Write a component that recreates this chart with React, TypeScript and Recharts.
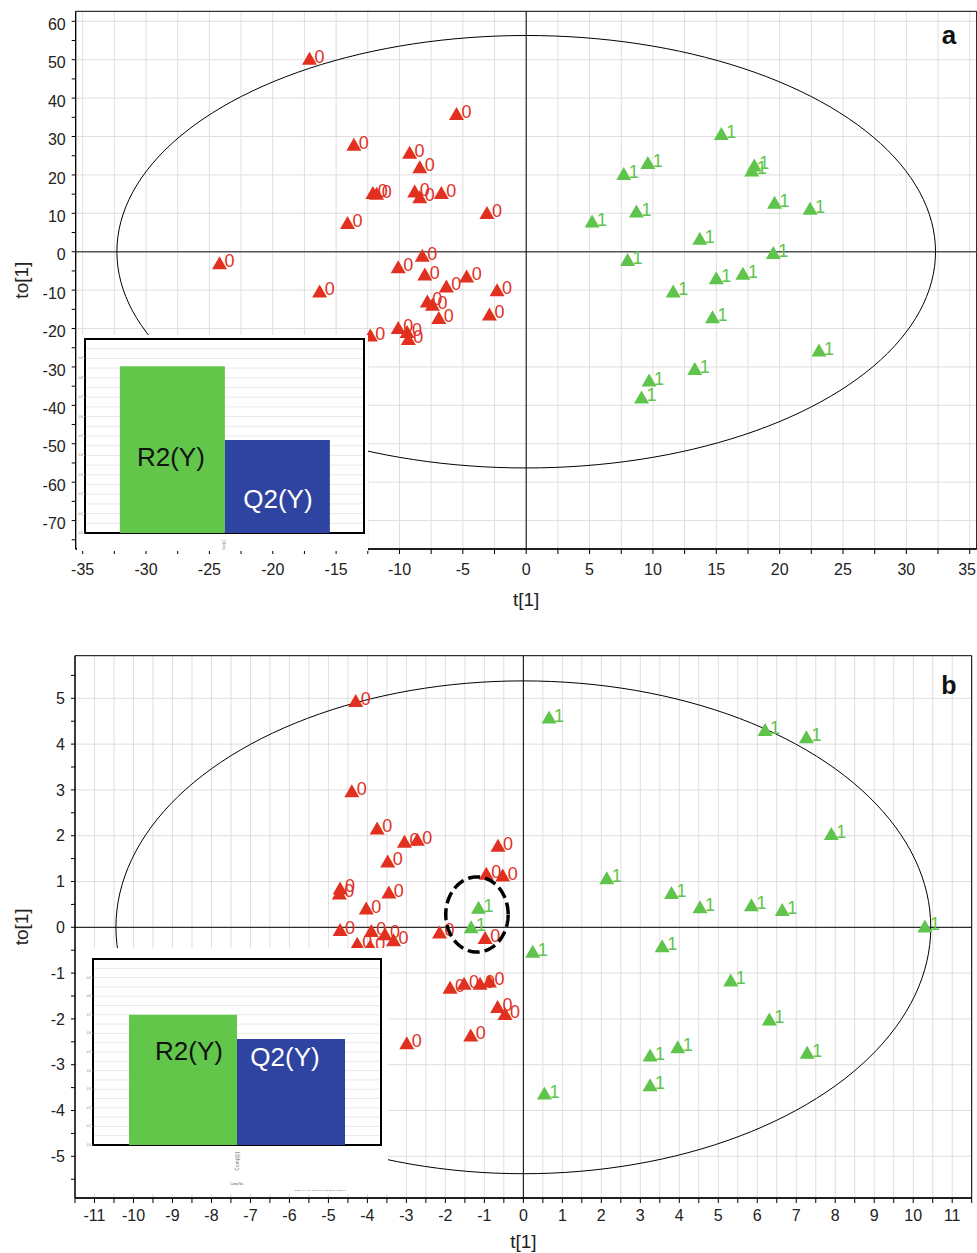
import React from "react";
import {
  ScatterChart,
  Scatter,
  XAxis,
  YAxis,
  CartesianGrid,
  ReferenceLine,
  ReferenceArea,
  BarChart,
  Bar,
  LabelList,
} from "recharts";

const FONT = "'Liberation Sans', Arial, Helvetica, sans-serif";
const RED = "#e1301f";
const GREEN = "#5fc44b";
const BAR_GREEN = "#62c64b";
const BAR_BLUE = "#2f44a0";
const GRID = "#dedede";
const TEXT = "#222";

// ---- panel a: scores t[1] / to[1]
const A_CLASS0: [number, number][] = [
  [-17.1, 50.4], [-5.5, 36.0], [-13.6, 28.0], [-9.2, 25.9], [-8.4, 22.1],
  [-12.1, 15.4], [-11.8, 15.2], [-8.8, 15.8], [-8.4, 14.3], [-6.7, 15.4],
  [-3.1, 10.2], [-14.1, 7.6], [-24.2, -2.9], [-8.2, -0.9], [-10.1, -3.9],
  [-8.0, -5.8], [-16.3, -10.2], [-4.7, -6.3], [-6.3, -8.9], [-2.3, -9.9],
  [-7.8, -12.8], [-7.4, -13.7], [-6.9, -17.1], [-2.9, -16.2], [-10.1, -19.7],
  [-9.4, -20.8], [-9.3, -22.6], [-12.3, -21.7],
];
const A_CLASS1: [number, number][] = [
  [15.4, 30.8], [9.6, 23.2], [7.7, 20.4], [18.0, 22.6], [17.8, 21.3],
  [19.6, 12.9], [22.4, 11.3], [8.7, 10.6], [5.2, 8.0], [13.7, 3.5],
  [8.0, -2.0], [19.5, -0.2], [17.1, -5.6], [15.0, -6.8], [11.6, -10.2],
  [14.7, -16.9], [23.1, -25.6], [13.3, -30.4], [9.7, -33.4], [9.1, -37.8],
];
const A_X_DOMAIN: [number, number] = [-35.55, 35.55];
const A_Y_DOMAIN: [number, number] = [-77.4, 62.6];
const A_X_LABELS = [-35, -30, -25, -20, -15, -10, -5, 0, 5, 10, 15, 20, 25, 30, 35];
const A_Y_LABELS = [-70, -60, -50, -40, -30, -20, -10, 0, 10, 20, 30, 40, 50, 60];
const A_ELLIPSE_RX = 32.3;
const A_ELLIPSE_RY = 56.3;
const A_R2Y = 0.86;
const A_Q2Y = 0.48;

// ---- panel b
const B_CLASS0: [number, number][] = [
  [-4.3, 4.95], [-4.4, 2.98], [-3.75, 2.17], [-3.05, 1.88], [-2.72, 1.92],
  [-3.48, 1.45], [-0.65, 1.79], [-0.95, 1.18], [-0.53, 1.14], [-4.7, 0.86],
  [-4.72, 0.75], [-3.45, 0.77], [-4.03, 0.42], [-4.7, -0.05], [-3.9, -0.07],
  [-3.55, -0.14], [-3.33, -0.27], [-4.26, -0.35], [-3.93, -0.4], [-2.15, -0.1],
  [-0.98, -0.22], [-1.88, -1.31], [-1.52, -1.22], [-1.11, -1.22], [-0.87, -1.17],
  [-0.66, -1.73], [-0.47, -1.88], [-1.35, -2.35], [-2.99, -2.52],
];
const B_CLASS1: [number, number][] = [
  [0.66, 4.59], [6.2, 4.32], [7.26, 4.16], [7.9, 2.05], [2.14, 1.08],
  [3.8, 0.76], [4.53, 0.45], [5.85, 0.49], [6.64, 0.39], [10.3, 0.03],
  [0.24, -0.52], [3.56, -0.4], [5.32, -1.15], [6.31, -2.0], [3.96, -2.61],
  [3.25, -2.79], [7.28, -2.73], [3.25, -3.44], [0.54, -3.62], [-1.15, 0.44],
  [-1.34, 0.01],
];
const B_X_DOMAIN: [number, number] = [-11.5, 11.5];
const B_Y_DOMAIN: [number, number] = [-5.91, 5.93];
const B_X_LABELS = [-11, -10, -9, -8, -7, -6, -5, -4, -3, -2, -1, 0, 1, 2, 3, 4, 5, 6, 7, 8, 9, 10, 11];
const B_Y_LABELS = [-5, -4, -3, -2, -1, 0, 1, 2, 3, 4, 5];
const B_ELLIPSE_RX = 10.45;
const B_ELLIPSE_RY = 5.38;
const B_MARK_CENTER: [number, number] = [-1.19, 0.28];
const B_MARK_RX = 0.8;
const B_MARK_RY = 0.82;
const B_R2Y = 0.7;
const B_Q2Y = 0.57;

const INSET_TICKS = [0, 0.1, 0.2, 0.3, 0.4, 0.5, 0.6, 0.7, 0.8, 0.9];

const seq = (from: number, to: number, step: number) => {
  const n = Math.round((to - from) / step);
  const out: number[] = [];
  for (let i = 0; i <= n; i++) out.push(Math.round((from + i * step) * 1000) / 1000);
  return out;
};

// outline of an ellipse, for the Hotelling T2 line and the hand-drawn mark
const ellipse = (cx: number, cy: number, rx: number, ry: number) => {
  const pts = [];
  for (let i = 0; i <= 180; i++) {
    const t = (i / 180) * Math.PI * 2;
    pts.push({ x: cx + rx * Math.cos(t), y: cy + ry * Math.sin(t) });
  }
  return pts;
};

const toPoints = (rows: [number, number][]) => rows.map(([x, y]) => ({ x, y }));

const marker = (color: string, label: string) => (props: any) => {
  const { cx, cy } = props;
  if (cx == null || cy == null) return <g />;
  return (
    <g>
      <path d={`M${cx} ${cy - 6.5}L${cx + 7.5} ${cy + 6.5}L${cx - 7.5} ${cy + 6.5}Z`} fill={color} />
      <text x={cx + 5} y={cy + 4.5} fill={color} fontSize={18} fontFamily={FONT}>
        {label}
      </text>
    </g>
  );
};

const noDot = () => <g />;

// x tick: labels only on the major values, the last one kept inside the page
const xTick = (labels: number[], chartWidth: number) => (tp: any) => {
  const v = Number(tp.payload.value);
  if (!labels.includes(v)) return <g />;
  const text = String(v);
  const nearEdge = tp.x + text.length * 5 > chartWidth;
  return (
    <text
      x={nearEdge ? chartWidth - 1 : tp.x}
      y={tp.y}
      dy="0.71em"
      textAnchor={nearEdge ? "end" : "middle"}
      fontSize={16}
      fill={TEXT}
      fontFamily={FONT}
    >
      {text}
    </text>
  );
};

interface ScorePlotProps {
  width: number;
  height: number;
  margin: { top: number; right: number; bottom: number; left: number };
  yAxisWidth: number;
  xAxisHeight: number;
  xDomain: [number, number];
  yDomain: [number, number];
  xTicks: number[];
  xLabels: number[];
  yTicks: number[];
  yLabels: number[];
  class0: [number, number][];
  class1: [number, number][];
  rx: number;
  ry: number;
  zeroYStroke: string;
  zeroYWidth: number;
  xTitleOffset: number;
  xTickMargin: number;
  yTickDy: number;
  mark?: { x: number; y: number }[];
}

function ScorePlot(p: ScorePlotProps) {
  const tick = { fontSize: 16, fill: TEXT, fontFamily: FONT };
  return (
    <ScatterChart width={p.width} height={p.height} margin={p.margin}>
      <CartesianGrid stroke={GRID} horizontalValues={p.yLabels} />
      <XAxis
        type="number"
        dataKey="x"
        domain={p.xDomain}
        allowDataOverflow
        ticks={p.xTicks}
        interval={0}
        tick={xTick(p.xLabels, p.width)}
        tickSize={5}
        tickMargin={p.xTickMargin}
        height={p.xAxisHeight}
        stroke="#000"
        axisLine={{ stroke: "#000", strokeWidth: 1.5 }}
        label={{
          value: "t[1]",
          position: "insideBottom",
          offset: p.xTitleOffset,
          style: { fontSize: 19, fill: TEXT, fontFamily: FONT },
        }}
      />
      <YAxis
        type="number"
        dataKey="y"
        domain={p.yDomain}
        allowDataOverflow
        ticks={p.yTicks}
        interval={0}
        tickFormatter={(v) => (p.yLabels.includes(v) ? String(v) : "")}
        tick={{ ...tick, dy: p.yTickDy }}
        tickSize={4}
        tickMargin={6}
        width={p.yAxisWidth}
        stroke="#000"
        label={{
          value: "to[1]",
          angle: -90,
          position: "insideLeft",
          offset: 21,
          style: { fontSize: 19, fill: TEXT, fontFamily: FONT, textAnchor: "middle" },
        }}
      />
      <ReferenceArea
        x1={p.xDomain[0]}
        x2={p.xDomain[1]}
        y1={p.yDomain[0]}
        y2={p.yDomain[1]}
        fill="none"
        stroke="#000"
        strokeWidth={1}
        ifOverflow="visible"
      />
      <ReferenceLine y={0} stroke={p.zeroYStroke} strokeWidth={p.zeroYWidth} />
      <ReferenceLine x={0} stroke="#000" strokeWidth={1} />
      <Scatter
        data={ellipse(0, 0, p.rx, p.ry)}
        fill="#000"
        line={{ stroke: "#000", strokeWidth: 1 }}
        shape={noDot}
        isAnimationActive={false}
      />
      <Scatter data={toPoints(p.class1)} fill={GREEN} shape={marker(GREEN, "1")} isAnimationActive={false} />
      <Scatter data={toPoints(p.class0)} fill={RED} shape={marker(RED, "0")} isAnimationActive={false} />
      {p.mark && (
        <Scatter
          data={p.mark}
          fill="#000"
          line={{ stroke: "#000", strokeWidth: 3.5, strokeDasharray: "12 5" }}
          shape={noDot}
          isAnimationActive={false}
        />
      )}
    </ScatterChart>
  );
}

const barText = (text: string, color: string, dx: number, dy: number) => (lp: any) => (
  <text
    x={Number(lp.x) + Number(lp.width) / 2 + dx}
    y={Number(lp.y) + dy}
    textAnchor="middle"
    fontSize={26}
    fill={color}
    fontFamily={FONT}
  >
    {text}
  </text>
);

interface InsetProps {
  left: number;
  top: number;
  width: number;
  height: number;
  margin: { top: number; right: number; bottom: number; left: number };
  yAxisWidth: number;
  xAxisHeight: number;
  r2: number;
  q2: number;
  r2Offset: [number, number];
  q2Offset: [number, number];
  compFont: number;
  compSpacing: number;
}

function ModelInset(p: InsetProps) {
  const data = [{ comp: "Comp[1]", r2: p.r2, q2: p.q2 }];
  const compTick = (tp: any) => (
    <text
      x={tp.x}
      y={tp.y}
      transform={`rotate(-90 ${tp.x} ${tp.y})`}
      textAnchor="end"
      dy="0.35em"
      fontSize={p.compFont}
      fill="#666"
      fontFamily={FONT}
      letterSpacing={p.compSpacing}
    >
      {tp.payload.value}
    </text>
  );
  return (
    <div style={{ position: "absolute", left: p.left, top: p.top, width: p.width, height: p.height, background: "#fff" }}>
      <BarChart width={p.width} height={p.height} data={data} margin={p.margin} barGap={0} barCategoryGap="12.5%">
        <CartesianGrid vertical={false} stroke="#e8e8e8" horizontalValues={seq(0, 1, 0.05)} />
        <XAxis dataKey="comp" height={p.xAxisHeight} axisLine={false} tickLine={false} tickMargin={1} tick={compTick} interval={0} />
        <YAxis
          type="number"
          domain={[0, 1]}
          ticks={INSET_TICKS}
          interval={0}
          width={p.yAxisWidth}
          axisLine={false}
          tickSize={1}
          tickMargin={1}
          tick={{ fontSize: 3, fill: "#777", fontFamily: FONT }}
          tickFormatter={(v) => Number(v).toFixed(1)}
        />
        <Bar dataKey="r2" fill={BAR_GREEN} isAnimationActive={false}>
          <LabelList content={barText("R2(Y)", "#111", p.r2Offset[0], p.r2Offset[1])} />
        </Bar>
        <Bar dataKey="q2" fill={BAR_BLUE} isAnimationActive={false}>
          <LabelList content={barText("Q2(Y)", "#fff", p.q2Offset[0], p.q2Offset[1])} />
        </Bar>
        <ReferenceArea y1={0} y2={1} fill="none" stroke="#000" strokeWidth={2} ifOverflow="visible" />
      </BarChart>
    </div>
  );
}

export default function App() {
  return (
    <div style={{ position: "absolute", left: 0, top: 0, width: 977, height: 1253, background: "#fff", fontFamily: FONT }}>
      <div style={{ position: "absolute", left: 0, top: 0 }}>
        <ScorePlot
          width={977}
          height={625}
          margin={{ top: 11.3, right: 0.3, bottom: 16, left: 0 }}
          yAxisWidth={75.7}
          xAxisHeight={60}
          xDomain={A_X_DOMAIN}
          yDomain={A_Y_DOMAIN}
          xTicks={seq(-35, 35, 2.5)}
          xLabels={A_X_LABELS}
          yTicks={seq(-75, 60, 5)}
          yLabels={A_Y_LABELS}
          class0={A_CLASS0}
          class1={A_CLASS1}
          rx={A_ELLIPSE_RX}
          ry={A_ELLIPSE_RY}
          zeroYStroke="#555"
          zeroYWidth={1.6}
          xTitleOffset={3}
          xTickMargin={10}
          yTickDy={3}
        />
      </div>
      <ModelInset
        left={77}
        top={335}
        width={291}
        height={216}
        margin={{ top: 4, right: 4, bottom: 0, left: 0 }}
        yAxisWidth={8}
        xAxisHeight={18}
        r2={A_R2Y}
        q2={A_Q2Y}
        r2Offset={[-1.5, 100]}
        q2Offset={[0.5, 68]}
        compFont={2.6}
        compSpacing={0}
      />
      <div style={{ position: "absolute", left: 0, top: 625 }}>
        <ScorePlot
          width={977}
          height={628}
          margin={{ top: 30.7, right: 5.3, bottom: 5, left: 0 }}
          yAxisWidth={75}
          xAxisHeight={50}
          xDomain={B_X_DOMAIN}
          yDomain={B_Y_DOMAIN}
          xTicks={seq(-11.5, 11.5, 0.5)}
          xLabels={B_X_LABELS}
          yTicks={seq(-5.5, 5.5, 0.5)}
          yLabels={B_Y_LABELS}
          class0={B_CLASS0}
          class1={B_CLASS1}
          rx={B_ELLIPSE_RX}
          ry={B_ELLIPSE_RY}
          zeroYStroke="#000"
          zeroYWidth={1}
          xTitleOffset={0}
          xTickMargin={7}
          yTickDy={0}
          mark={ellipse(B_MARK_CENTER[0], B_MARK_CENTER[1], B_MARK_RX, B_MARK_RY)}
        />
      </div>
      <ModelInset
        left={77}
        top={948}
        width={311}
        height={246}
        margin={{ top: 11, right: 7, bottom: 0, left: 0 }}
        yAxisWidth={16}
        xAxisHeight={49}
        r2={B_R2Y}
        q2={B_Q2Y}
        r2Offset={[6, 45]}
        q2Offset={[-6, 27]}
        compFont={4.5}
        compSpacing={0.2}
      />
      <svg width={977} height={1253} style={{ position: "absolute", left: 0, top: 0, pointerEvents: "none" }}>
        <text x={949} y={44} textAnchor="middle" fontSize={26} fontWeight="bold" fill="#111" fontFamily={FONT}>
          a
        </text>
        <text x={949} y={694} textAnchor="middle" fontSize={25} fontWeight="bold" fill="#111" fontFamily={FONT}>
          b
        </text>
        <text x={237} y={1185} textAnchor="middle" fontSize={3} fill="#555" fontFamily={FONT}>
          Comp No.
        </text>
        <text x={320} y={1191} textAnchor="middle" fontSize={2.5} fill="#555" fontFamily={FONT}>
          SIMCA-P+ 12 - 2009-06-17 15:02:59 (UTC+1)
        </text>
      </svg>
    </div>
  );
}
